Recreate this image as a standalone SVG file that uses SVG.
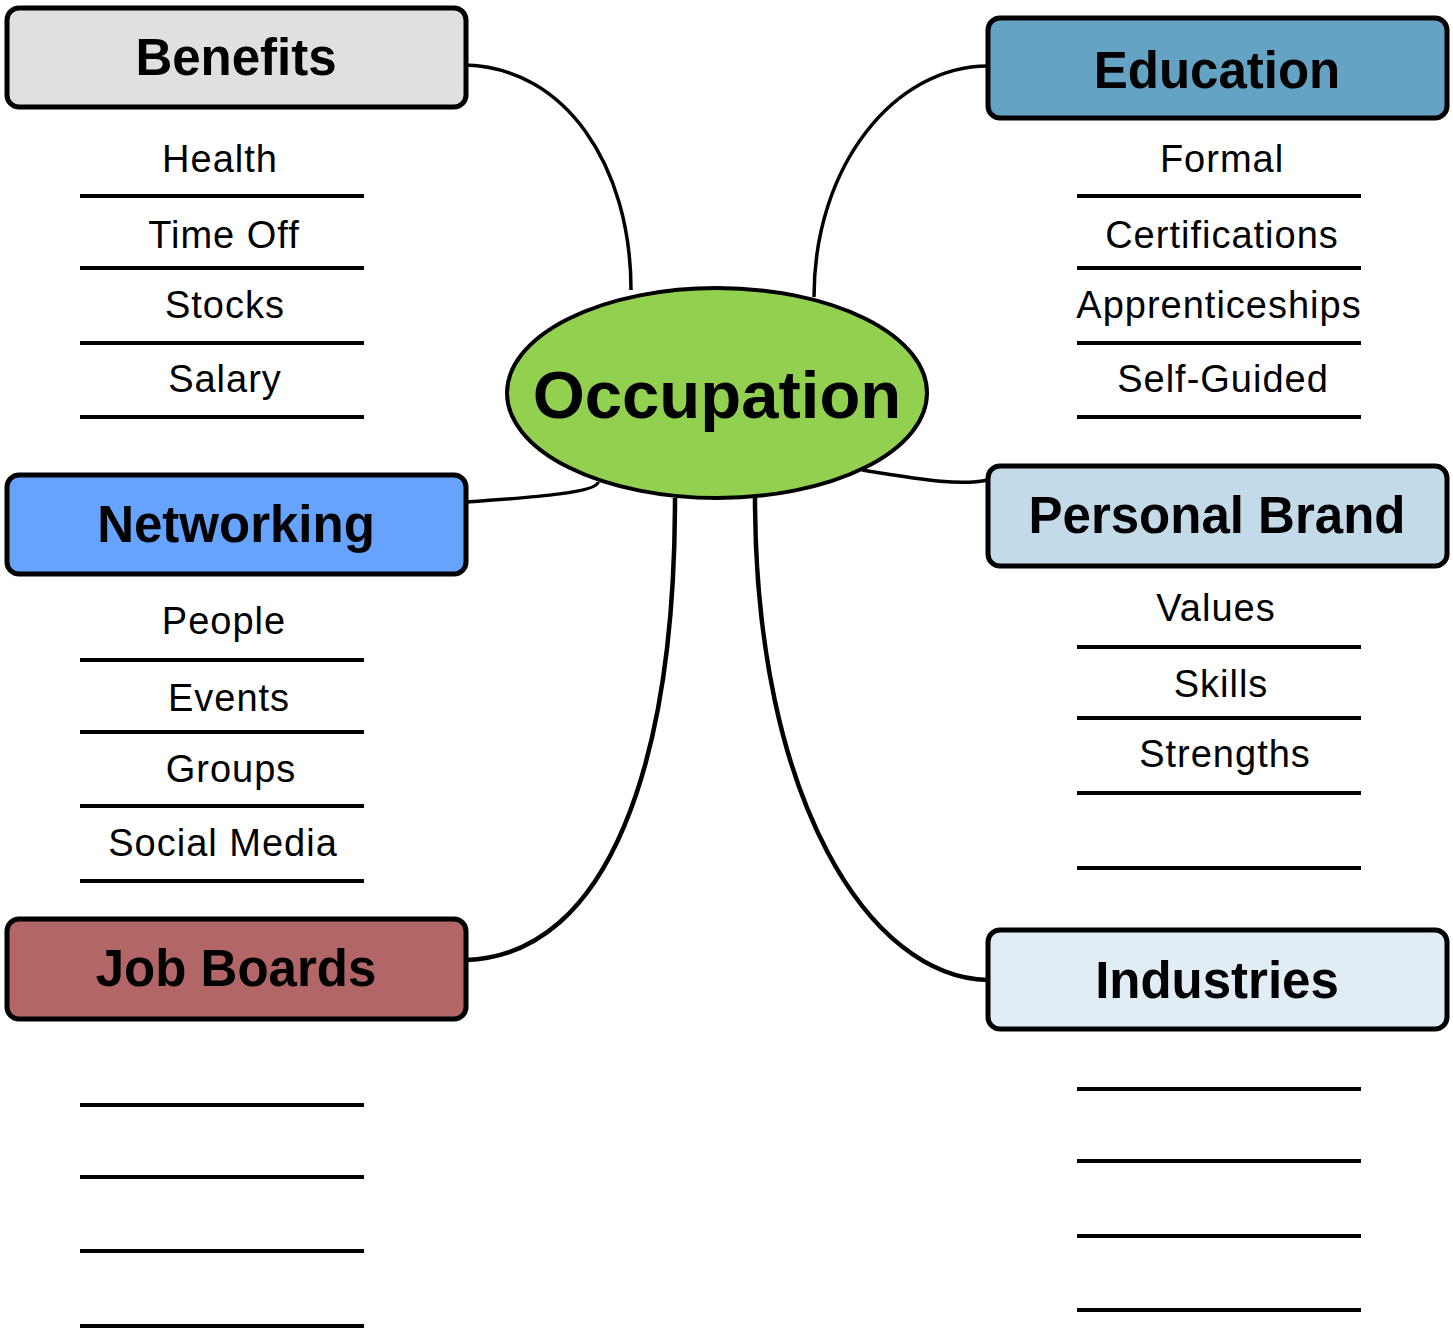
<svg xmlns="http://www.w3.org/2000/svg" width="1453" height="1332" viewBox="0 0 1453 1332">
<style>
.box{stroke:#000;stroke-width:5}
.hdr{font-family:"Liberation Sans",Arial,sans-serif;font-weight:bold;font-size:51px;text-anchor:middle;fill:#000}
.item{font-family:"Liberation Sans",Arial,sans-serif;font-size:38px;text-anchor:middle;fill:#000;letter-spacing:1px}
.rule{stroke:#000;stroke-width:4}
.conn{fill:none;stroke:#000;stroke-width:3.5}
.conn2{fill:none;stroke:#000;stroke-width:4.5}
</style>
<rect width="1453" height="1332" fill="#fff"/>
<g id="connectors">
<path class="conn" d="M466,65 C565,68 631,165 631,290"/>
<path class="conn" d="M988,66 C895,66 814,165 814,297"/>
<path class="conn" d="M466,502 C540,497 598,492 598,482"/>
<path class="conn" d="M862,470 C925,480 960,486 988,480"/>
<path class="conn2" d="M466,960 C610,955 675,760 675,498"/>
<path class="conn2" d="M755,498 C755,800 870,978 988,980"/>
</g>
<g id="occupation">
<ellipse cx="717" cy="393" rx="210" ry="105" fill="#92d050" stroke="#000" stroke-width="4"/>
<text x="717" y="418" style="font-family:'Liberation Sans',Arial,sans-serif;font-weight:bold;font-size:67px;text-anchor:middle">Occupation</text>
</g>
<g id="benefits">
<rect class="box" x="7" y="8" width="459" height="99" rx="12" fill="#e0e0e0"/>
<text class="hdr" x="236" y="75">Benefits</text>
<text class="item" x="220" y="172">Health</text>
<text class="item" x="224" y="248">Time Off</text>
<text class="item" x="225" y="318">Stocks</text>
<text class="item" x="225" y="392">Salary</text>
<line class="rule" x1="80" y1="196" x2="364" y2="196"/>
<line class="rule" x1="80" y1="268" x2="364" y2="268"/>
<line class="rule" x1="80" y1="343" x2="364" y2="343"/>
<line class="rule" x1="80" y1="417" x2="364" y2="417"/>
</g>
<g id="education">
<rect class="box" x="988" y="18" width="459" height="100" rx="12" fill="#64a3c4"/>
<text class="hdr" x="1217" y="88">Education</text>
<text class="item" x="1222" y="172">Formal</text>
<text class="item" x="1222" y="248">Certifications</text>
<text class="item" x="1219" y="318">Apprenticeships</text>
<text class="item" x="1223" y="392">Self-Guided</text>
<line class="rule" x1="1077" y1="196" x2="1361" y2="196"/>
<line class="rule" x1="1077" y1="268" x2="1361" y2="268"/>
<line class="rule" x1="1077" y1="343" x2="1361" y2="343"/>
<line class="rule" x1="1077" y1="417" x2="1361" y2="417"/>
</g>
<g id="networking">
<rect class="box" x="7" y="475" width="459" height="99" rx="12" fill="#66a3ff"/>
<text class="hdr" x="236" y="542">Networking</text>
<text class="item" x="224" y="634">People</text>
<text class="item" x="229" y="711">Events</text>
<text class="item" x="231" y="782">Groups</text>
<text class="item" x="223" y="856">Social Media</text>
<line class="rule" x1="80" y1="660" x2="364" y2="660"/>
<line class="rule" x1="80" y1="732" x2="364" y2="732"/>
<line class="rule" x1="80" y1="806" x2="364" y2="806"/>
<line class="rule" x1="80" y1="881" x2="364" y2="881"/>
</g>
<g id="personal-brand">
<rect class="box" x="988" y="466" width="459" height="100" rx="12" fill="#c3dbe8"/>
<text class="hdr" x="1217" y="533">Personal Brand</text>
<text class="item" x="1216" y="621">Values</text>
<text class="item" x="1221" y="697">Skills</text>
<text class="item" x="1225" y="767">Strengths</text>
<line class="rule" x1="1077" y1="647" x2="1361" y2="647"/>
<line class="rule" x1="1077" y1="718" x2="1361" y2="718"/>
<line class="rule" x1="1077" y1="793" x2="1361" y2="793"/>
<line class="rule" x1="1077" y1="868" x2="1361" y2="868"/>
</g>
<g id="job-boards">
<rect class="box" x="7" y="919" width="459" height="100" rx="12" fill="#b26666"/>
<text class="hdr" x="236" y="986">Job Boards</text>
<line class="rule" x1="80" y1="1105" x2="364" y2="1105"/>
<line class="rule" x1="80" y1="1177" x2="364" y2="1177"/>
<line class="rule" x1="80" y1="1251" x2="364" y2="1251"/>
<line class="rule" x1="80" y1="1326" x2="364" y2="1326"/>
</g>
<g id="industries">
<rect class="box" x="988" y="930" width="459" height="99" rx="12" fill="#e1edf5"/>
<text class="hdr" x="1217" y="998">Industries</text>
<line class="rule" x1="1077" y1="1089" x2="1361" y2="1089"/>
<line class="rule" x1="1077" y1="1161" x2="1361" y2="1161"/>
<line class="rule" x1="1077" y1="1236" x2="1361" y2="1236"/>
<line class="rule" x1="1077" y1="1310" x2="1361" y2="1310"/>
</g>
</svg>
